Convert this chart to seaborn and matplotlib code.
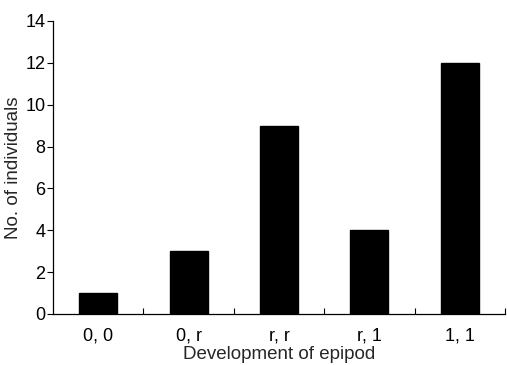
import matplotlib
matplotlib.use("Agg")
import matplotlib.pyplot as plt
import seaborn as sns
import pandas as pd
from matplotlib.ticker import FixedLocator

categories = ["0, 0", "0, r", "r, r", "r, 1", "1, 1"]
counts = [1, 3, 9, 4, 12]
yticks = [0, 2, 4, 6, 8, 10, 12, 14]

sns.set_style("ticks")
plt.rcParams['font.family'] = ['Liberation Sans', 'DejaVu Sans']

df = pd.DataFrame({"cat": categories, "n": counts})
fig = plt.figure(figsize=(5.07, 3.65), dpi=100)
ax = fig.add_axes([0.1045, 0.14, 0.8915, 0.8025])
sns.barplot(data=df, x="cat", y="n", color="black", width=0.42, ax=ax,
            saturation=1, edgecolor="black")
ax.set_xlim(-0.5, 4.5)
ax.set_ylim(0, 14)
ax.set_yticks(yticks)
ax.tick_params(axis="both", labelsize=13, width=0.8, color="black", labelcolor="black")
ax.tick_params(axis="y", length=4, direction="out", pad=1.5)
ax.tick_params(axis="x", which="major", length=0, pad=10)
ax.xaxis.set_minor_locator(FixedLocator([0.5, 1.5, 2.5, 3.5, 4.5]))
ax.tick_params(axis="x", which="minor", length=4, direction="in", width=0.8, color="black")
ax.set_xlabel("Development of epipod", fontsize=13.5, labelpad=1)
ax.set_ylabel("No. of individuals", fontsize=13.5, labelpad=2)
for s in ["top", "right"]:
    ax.spines[s].set_visible(False)
for s in ["left", "bottom"]:
    ax.spines[s].set_linewidth(0.9)
    ax.spines[s].set_color("black")
fig.savefig("out.png", dpi=100)
